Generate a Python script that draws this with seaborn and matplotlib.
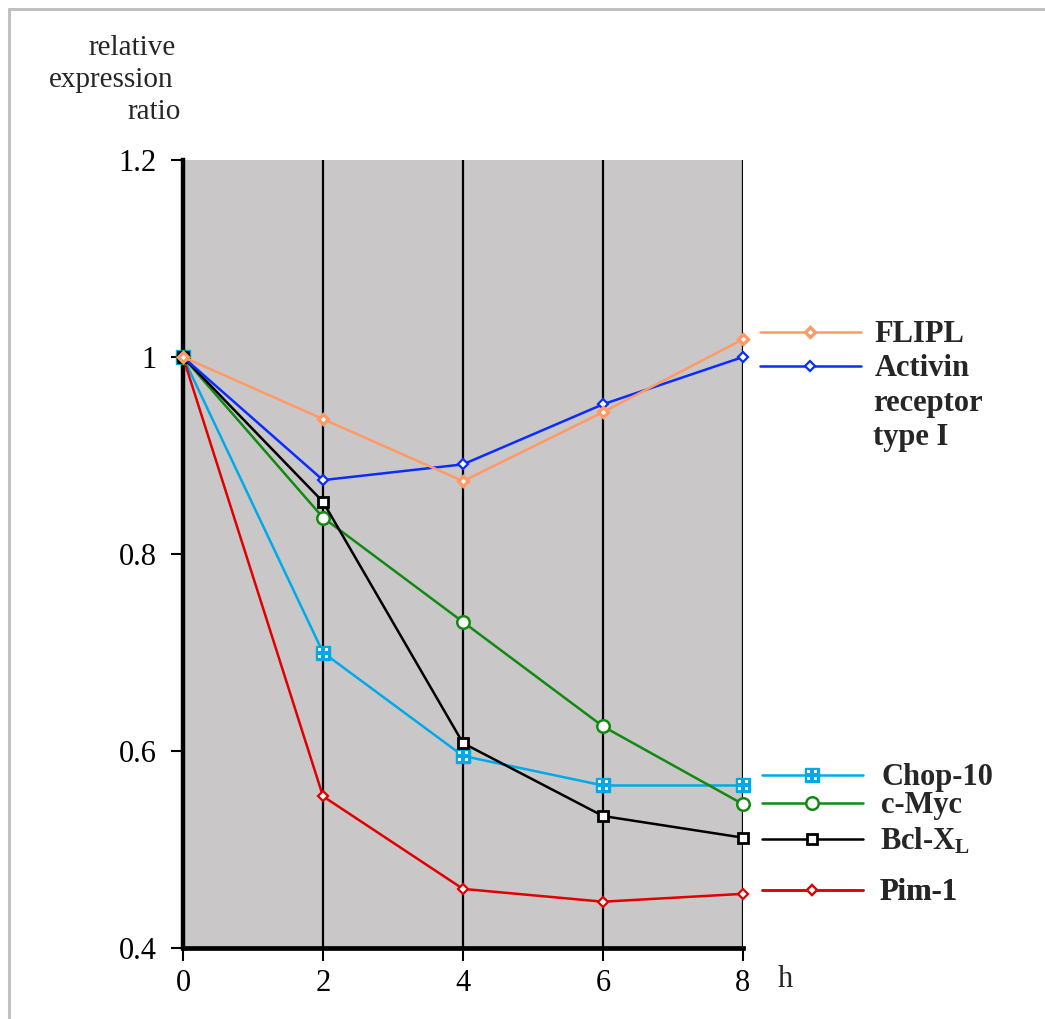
import numpy as np
import pandas as pd
import matplotlib
matplotlib.use("Agg")
import matplotlib.pyplot as plt
import seaborn as sns
from matplotlib.path import Path
from matplotlib.legend_handler import HandlerTuple
from matplotlib.lines import Line2D

# ---- data ----
hours = [0, 2, 4, 6, 8]
flipl = [1.0, 0.937, 0.874, 0.944, 1.018]
activin = [1.0, 0.875, 0.891, 0.952, 1.0]
chop10 = [1.0, 0.700, 0.595, 0.565, 0.565]
cmyc = [1.0, 0.837, 0.731, 0.625, 0.546]
bclxl = [1.0, 0.853, 0.608, 0.534, 0.512]
pim1 = [1.0, 0.554, 0.460, 0.447, 0.455]

yticks = [0.4, 0.6, 0.8, 1.0, 1.2]
ytick_labels = ["0.4", "0.6", "0.8", "1", "1.2"]
xticks = [0, 2, 4, 6, 8]
xtick_labels = ["0", "2", "4", "6", "8"]

sns.set_style("white")
plt.rcParams["font.family"] = ["Liberation Serif", "DejaVu Serif"]
plt.rcParams["mathtext.fontset"] = "custom"
plt.rcParams["mathtext.rm"] = "Liberation Serif:bold"

fig = plt.figure(figsize=(10.45, 10.19), dpi=100)
ax = fig.add_axes([183 / 1045, 1 - 948 / 1019, 560 / 1045, 788 / 1019])
ax.set_facecolor("#c9c7c8")

def draw(y, color, marker, ms, mfc, mew, z):
    df = pd.DataFrame({"h": hours, "v": y})
    sns.lineplot(data=df, x="h", y="v", ax=ax, color=color, lw=1.8,
                 marker=marker, markersize=ms, markerfacecolor=mfc,
                 markeredgecolor=color, markeredgewidth=mew,
                 clip_on=False, zorder=z)
    return ax.lines[-1]

h_chop = draw(chop10, "#00aae8", "s", 10, "#00aae8", 1.0, 3)
# white inner dots of the Chop-10 marker
sq = []
codes = []
for sx in (-1, 1):
    for sy in (-1, 1):
        a, b = 0.35, 1.0
        pts = [(sx * a, sy * a), (sx * b, sy * a), (sx * b, sy * b), (sx * a, sy * b), (sx * a, sy * a)]
        sq += pts
        codes += [Path.MOVETO, Path.LINETO, Path.LINETO, Path.LINETO, Path.CLOSEPOLY]
dots = Path(sq, codes)
h_chop_dots, = ax.plot(hours, chop10, ls="none", marker=dots, markersize=6.8,
                       markerfacecolor="white", markeredgewidth=0,
                       clip_on=False, zorder=3.1)
h_pim = draw(pim1, "#e00000", "D", 5.4, "white", 1.6, 4)
h_myc = draw(cmyc, "#108a10", "o", 9, "white", 1.8, 6)
h_bcl = draw(bclxl, "#000000", "s", 7.8, "white", 2.0, 7)
h_act = draw(activin, "#0a2cff", "D", 5.4, "white", 1.6, 8)
h_fli = draw(flipl, "#ff9a66", "D", 5.0, "white", 2.4, 9)

ax.set_xlim(0, 8)
ax.set_ylim(0.4, 1.2)
ax.set_xticks(xticks)
ax.set_xticklabels(xtick_labels)
ax.set_yticks(yticks)
ax.set_yticklabels(ytick_labels)
ax.set_xlabel("")
ax.set_ylabel("")
ax.tick_params(axis="both", direction="out", length=9, width=1.5, color="black",
               labelsize=22, labelcolor="black", bottom=True, left=True)
ax.tick_params(axis="y", pad=10)
ax.tick_params(axis="x", pad=6)
ax.xaxis.grid(True, color="black", lw=1.6)
ax.yaxis.grid(False)
ax.set_axisbelow(True)
for s in ("top", "right"):
    ax.spines[s].set_visible(False)
ax.spines["left"].set_linewidth(3.2)
ax.spines["bottom"].set_linewidth(3.4)
ax.spines["left"].set_color("black")
ax.spines["bottom"].set_color("black")

# axis annotations
fig.text(176 / 1045, 1 - 48 / 1019, "relative", ha="right", va="center", fontsize=21)
fig.text(173 / 1045, 1 - 80 / 1019, "expression", ha="right", va="center", fontsize=21)
fig.text(181 / 1045, 1 - 112 / 1019, "ratio", ha="right", va="center", fontsize=21)
ax.text(1.075, -0.0406, "h", transform=ax.transAxes, ha="center", va="center", fontsize=22)

# legends
def add_leg(handle, label, xa, ya, pad):
    lg = ax.legend([handle], [label], loc="center left", bbox_to_anchor=(xa, ya),
                   bbox_transform=ax.transAxes, frameon=False, borderpad=0,
                   borderaxespad=0, handlelength=3.3, handletextpad=pad,
                   numpoints=1,
                   handler_map={tuple: HandlerTuple(ndivide=1, pad=0)},
                   prop={"family": "Liberation Serif", "weight": "bold", "size": 22})
    ax.add_artist(lg)
    return lg

add_leg(h_fli, "FLIPL", (760 - 183) / 560, (948 - 335) / 788, 0.45)
add_leg(h_act, "Activin", (760 - 183) / 560, (948 - 369) / 788, 0.45)
ax.text((873 - 183) / 560, (948 - 404) / 788, "receptor", transform=ax.transAxes,
        ha="left", va="center", fontsize=22, fontweight="bold")
ax.text((873 - 183) / 560, (948 - 437) / 788, "type I", transform=ax.transAxes,
        ha="left", va="center", fontsize=22, fontweight="bold")
add_leg((h_chop, h_chop_dots), "Chop-10", (762 - 183) / 560, (948 - 778) / 788, 0.6)
add_leg(h_myc, "c-Myc", (762 - 183) / 560, (948 - 806) / 788, 0.6)
add_leg(h_bcl, r"Bcl-X$\mathregular{_L}$", (762 - 183) / 560, (948 - 841) / 788, 0.55)
add_leg(h_pim, "Pim-1", (762 - 183) / 560, (948 - 893) / 788, 0.55)

# figure frame lines (top and left)
fig.add_artist(Line2D([9 / 1045, 1], [1 - 9 / 1019, 1 - 9 / 1019], transform=fig.transFigure,
                      color="#c0c0c0", lw=2.2))
fig.add_artist(Line2D([9 / 1045, 9 / 1045], [0, 1 - 9 / 1019], transform=fig.transFigure,
                      color="#c0c0c0", lw=2.2))

fig.savefig("out.png", dpi=100)
